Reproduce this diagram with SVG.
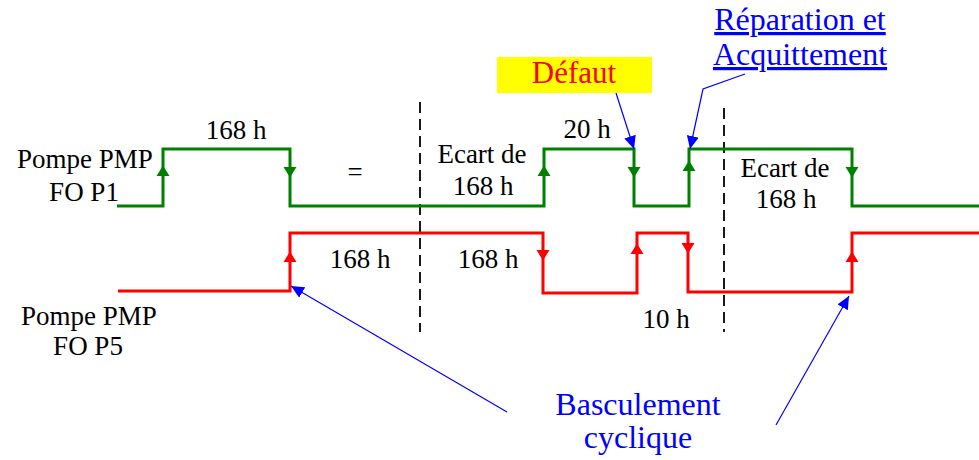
<svg xmlns="http://www.w3.org/2000/svg" width="979" height="460" viewBox="0 0 979 460">
<style>
text{font-family:"Liberation Serif","Times New Roman",serif;font-size:27px;fill:#000;text-anchor:middle}
.blue{fill:#0000ff;font-size:32px}
.red{fill:#ff0000;font-size:31px}
.wave{fill:none;stroke-width:3;stroke-linejoin:miter}
.g{stroke:#008000}
.r{stroke:#ff0000}
.ga{fill:#008000}
.ra{fill:#ff0000}
.dash{stroke:#000;stroke-width:1.8;stroke-dasharray:11,6;fill:none}
.conn{stroke:#0000ff;stroke-width:1.2;fill:none;marker-end:url(#bh)}
</style>
<defs>
<path id="up" d="M0,-5.5 L6.5,5 L-6.5,5 Z"/>
<path id="dn" d="M0,5.5 L6.5,-5 L-6.5,-5 Z"/>
<marker id="bh" markerUnits="userSpaceOnUse" markerWidth="14" markerHeight="12" refX="13" refY="6" orient="auto"><path d="M0,0 L13,6 L0,12 Z" fill="#0000ff"/></marker>
</defs>
<rect width="979" height="460" fill="#fff"/>

<g id="separators">
<line class="dash" x1="420" y1="102" x2="420" y2="332"/>
<line class="dash" x1="724" y1="108" x2="724" y2="332"/>
</g>

<g id="pump-p1-wave">
<path class="wave g" d="M117,206 H163 V149 H290 V206 H544 V149 H634 V206 H689 V149 H852 V206 H979"/>
<use href="#up" class="ga" x="163" y="171"/>
<use href="#dn" class="ga" x="290" y="172"/>
<use href="#up" class="ga" x="544" y="171"/>
<use href="#dn" class="ga" x="634" y="172"/>
<use href="#up" class="ga" x="689" y="166"/>
<use href="#dn" class="ga" x="852" y="172"/>
</g>

<g id="pump-p5-wave">
<path class="wave r" d="M118,291 H290 V233 H543 V293 H637 V233 H688 V292 H852 V233 H979"/>
<use href="#up" class="ra" x="290" y="257"/>
<use href="#dn" class="ra" x="543" y="255"/>
<use href="#up" class="ra" x="637" y="249"/>
<use href="#dn" class="ra" x="688" y="248"/>
<use href="#up" class="ra" x="852" y="257"/>
</g>

<g id="label-p1"><text x="85" y="168">Pompe PMP</text><text x="84" y="201">FO P1</text></g>
<g id="label-p5"><text x="89" y="325">Pompe PMP</text><text x="88" y="355">FO P5</text></g>
<g id="t-168-top"><text x="236" y="139">168 h</text></g>
<g id="t-equal"><text x="355" y="181">=</text></g>
<g id="t-ecart1"><text x="482" y="163">Ecart de</text><text x="483" y="195">168 h</text></g>
<g id="t-20h"><text x="587" y="138">20 h</text></g>
<g id="t-ecart2"><text x="785" y="177">Ecart de</text><text x="786" y="208">168 h</text></g>
<g id="t-168-red1"><text x="360" y="268">168 h</text></g>
<g id="t-168-red2"><text x="488" y="268">168 h</text></g>
<g id="t-10h"><text x="666" y="328">10 h</text></g>

<g id="defaut">
<rect x="497" y="57" width="155" height="36" fill="#ffff00"/>
<text class="red" x="574" y="83">Défaut</text>
</g>
<g id="reparation">
<text class="blue" x="800" y="30" text-decoration="underline">Réparation et</text>
<text class="blue" x="800" y="65" text-decoration="underline">Acquittement</text>
</g>
<g id="basculement">
<text class="blue" x="638" y="415">Basculement</text>
<text class="blue" x="638" y="448">cyclique</text>
</g>

<g id="connectors">
<path class="conn" d="M616,93 L634,149"/>
<path class="conn" d="M745,74 L703,89 L690,149"/>
<path class="conn" d="M507,412 L291,286"/>
<path class="conn" d="M776,425 L849,296"/>
</g>
</svg>
